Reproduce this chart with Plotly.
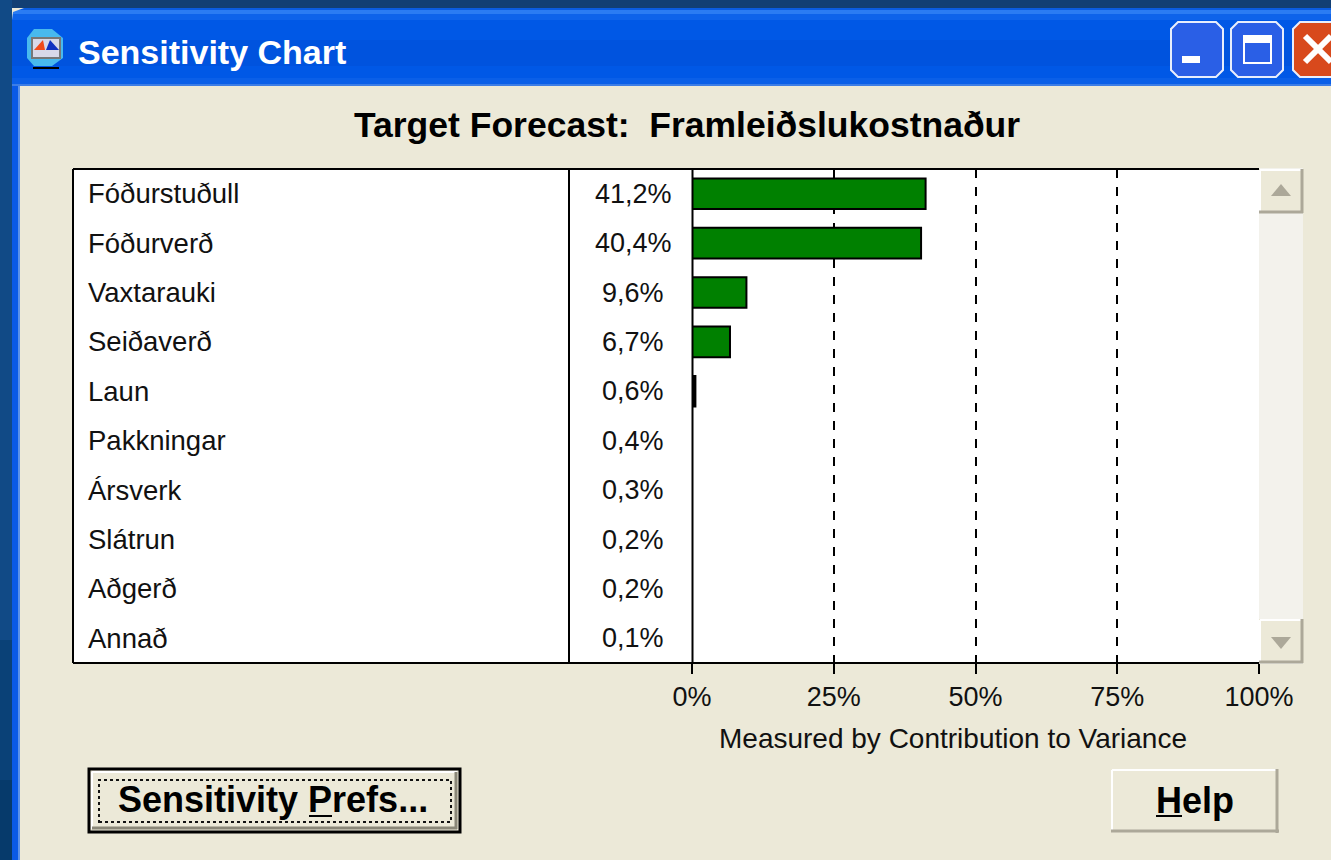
import plotly.graph_objects as go

categories = ["Fóðurstuðull", "Fóðurverð", "Vaxtarauki", "Seiðaverð", "Laun",
              "Pakkningar", "Ársverk", "Slátrun", "Aðgerð", "Annað"]
values = [41.2, 40.4, 9.6, 6.7, 0.6, 0.4, 0.3, 0.2, 0.2, 0.1]
value_labels = ["41,2%", "40,4%", "9,6%", "6,7%", "0,6%", "0,4%", "0,3%", "0,2%", "0,2%", "0,1%"]
tick_vals = [0, 25, 50, 75, 100]
tick_labels = ["0%", "25%", "50%", "75%", "100%"]
window_title = "Sensitivity Chart"
chart_title = "Target Forecast:  Framleiðslukostnaður"
axis_title = "Measured by Contribution to Variance"

BEIGE = "#ece9d8"
L, R, T, B = 692, 1259, 169, 663
NARROW = "Liberation Sans, Arial, sans-serif"
BOLD = "Liberation Sans, Arial, sans-serif"


def px(x):
    return (x - L) / (R - L)


def py(y):
    return (B - y) / (B - T)


shapes = []


def rect(x0, y0, x1, y1, fill=None, line=None, width=0, layer="above", dash=None):
    ln = dict(width=width)
    if line:
        ln["color"] = line
    if dash:
        ln["dash"] = dash
    shapes.append(dict(type="rect", xref="paper", yref="paper", x0=px(x0), x1=px(x1),
                       y0=py(y1), y1=py(y0), fillcolor=fill or "rgba(0,0,0,0)", line=ln, layer=layer))


def hline(x0, y0, x1, y1, color, width=2, layer="above", dash=None):
    ln = dict(color=color, width=width)
    if dash:
        ln["dash"] = dash
    shapes.append(dict(type="line", xref="paper", yref="paper", x0=px(x0), x1=px(x1),
                       y0=py(y0), y1=py(y1), line=ln, layer=layer))


def poly(points, fill=None, line=None, width=0, layer="above"):
    d = "M " + " L ".join(f"{px(x):.6f} {py(y):.6f}" for x, y in points) + " Z"
    ln = dict(width=width)
    if line:
        ln["color"] = line
    shapes.append(dict(type="path", xref="paper", yref="paper", path=d,
                       fillcolor=fill or "rgba(0,0,0,0)", line=ln, layer=layer))


# desktop behind the window
rect(0, 0, 1331, 8, "#123f74", layer="below")
rect(0, 0, 12, 860, "#114a86", layer="below")
rect(0, 640, 12, 860, "#0a4177", layer="below")
rect(0, 780, 12, 860, "#063a6b", layer="below")
# window frame
rect(12, 86, 20, 860, "#0a5ae6", layer="below")
rect(18, 86, 20, 860, "#5b92ea", layer="below")
# title bar gradient strips
for y0, y1, c in [(8, 10, "#0b5ce0"), (10, 14, "#2b7cf3"), (14, 20, "#0e63ea"), (20, 40, "#0058e6"),
                  (40, 66, "#0053de"), (66, 78, "#0058e6"), (78, 84, "#0a5fe8"), (84, 86, "#3c7de6")]:
    rect(12, y0, 1331, y1, c, layer="below")
rect(20, 86, 1331, 860, BEIGE, layer="below")
poly([(12, 20), (13, 12), (24, 8), (12, 8)], "#ece9d8", layer="below")
# app icon
poly([(34, 29), (52, 29), (63, 38), (63, 58), (52, 66), (34, 66), (27, 58), (27, 38)], "#48b9ee")
rect(32, 38, 60, 58, "#d8d8e8", "#777777", 2)
poly([(34, 50), (43, 40), (45, 50)], "#f04a1a")
poly([(46, 50), (50, 40), (59, 50)], "#1030c0")
hline(33, 68, 59, 68, "#000000", 2)

# window buttons
def winbtn(x0, x1, fill, edge="#e8eefc"):
    y0, y1, r = 22, 77, 7
    poly([(x0 + r, y0), (x1 - r, y0), (x1, y0 + r), (x1, y1 - r), (x1 - r, y1), (x0 + r, y1),
          (x0, y1 - r), (x0, y0 + r)], fill, edge, 2)


winbtn(1171, 1223, "#2a5fe6")
rect(1182, 56, 1200, 63, "#ffffff")
winbtn(1231, 1283, "#2a5fe6")
rect(1244, 36, 1271, 63, None, "#ffffff", 2)
rect(1243, 35, 1272, 43, "#ffffff")
winbtn(1293, 1345, "#d8491c")
hline(1305, 36, 1331, 62, "#ffffff", 6)
hline(1305, 62, 1331, 36, "#ffffff", 6)

# list frame and white chart ground
rect(73, T, R, B, "#ffffff", layer="below")
hline(73, T, 1259, T, "#000000", 2)
hline(73, B, 1259, B, "#000000", 2)
hline(73, T, 73, B, "#000000", 2)
hline(569, T, 569, B, "#000000", 2)
hline(692.5, T, 692.5, B, "#000000", 2)

# scrollbar
rect(1259, T - 1, 1303, B + 1, "#f3f2ec")
rect(1259, 169, 1303, 213, BEIGE)
hline(1260, 170, 1260, 212, "#ffffff", 2)
hline(1260, 170, 1302, 170, "#ffffff", 2)
hline(1302, 169, 1302, 213, "#aca899", 3)
hline(1259, 212, 1303, 212, "#aca899", 3)
poly([(1271, 196), (1291, 196), (1281, 184)], "#aca899")
rect(1259, 619, 1303, 663, BEIGE)
hline(1260, 620, 1260, 662, "#ffffff", 2)
hline(1260, 620, 1302, 620, "#ffffff", 2)
hline(1302, 619, 1302, 663, "#aca899", 3)
hline(1259, 662, 1303, 662, "#aca899", 3)
poly([(1271, 637), (1291, 637), (1281, 649)], "#aca899")

# Prefs button
rect(89, 769, 460, 832, BEIGE, "#000000", 3)
hline(92, 772, 457, 772, "#ffffff", 2)
hline(92, 772, 92, 829, "#ffffff", 2)
hline(92, 828, 457, 828, "#8a8778", 3)
hline(456, 772, 456, 829, "#8a8778", 3)
rect(99, 780, 451, 822, None, "#111111", 2, dash="dot")
hline(309, 816, 332, 816, "#000000", 2)
# Help button
rect(1111, 769, 1279, 832, BEIGE)
hline(1112, 770, 1278, 770, "#ffffff", 2)
hline(1112, 770, 1112, 831, "#ffffff", 2)
hline(1277, 769, 1277, 833, "#aca899", 3)
hline(1111, 831, 1279, 831, "#aca899", 3)
hline(1156, 816, 1182, 816, "#000000", 2)

annotations = []


def label(x, y, text, size, family=NARROW, color="#111111", anchor="center", bold=False):
    annotations.append(dict(xref="paper", yref="paper", x=px(x), y=py(y), text=f"<b>{text}</b>" if bold else text,
                            showarrow=False, xanchor=anchor, yanchor="middle",
                            font=dict(size=size, family=family, color=color)))


label(76, 52, window_title, 34, BOLD, "#ffffff", "left", True)
label(687, 125, chart_title, 35.5, BOLD, "#000000", "center", True)
label(953, 738, axis_title, 28)
label(273, 799, "Sensitivity Prefs...", 36, BOLD, "#000000", "center", True)
label(1195, 800, "Help", 36, BOLD, "#000000", "center", True)

for cat, vl in zip(categories, value_labels):
    annotations.append(dict(xref="paper", yref="y", x=px(86), y=cat, text=cat, showarrow=False, xanchor="left",
                            yanchor="middle", font=dict(size=27.5, family=NARROW, color="#111111")))
    annotations.append(dict(xref="paper", yref="y", x=px(633), y=cat, text=vl, showarrow=False, xanchor="center",
                            yanchor="middle", font=dict(size=27, family=NARROW, color="#111111")))

bar_fill = ["#008000" if v >= 1 else "#000000" if v >= 0.5 else "rgba(0,0,0,0)" for v in values]
bar_edge = ["#000000" if v >= 0.5 else "rgba(0,0,0,0)" for v in values]

fig = go.Figure(go.Bar(x=values, y=categories, orientation="h", width=0.62,
                       marker=dict(color=bar_fill, line=dict(color=bar_edge, width=2)),
                       showlegend=False, hoverinfo="skip"))
fig.update_layout(
    width=1331, height=860, autosize=False,
    margin=dict(l=L, r=1331 - R, t=T, b=860 - B),
    paper_bgcolor=BEIGE, plot_bgcolor="#ffffff",
    shapes=shapes, annotations=annotations, bargap=0.38,
    xaxis=dict(range=[0, 100], tickvals=tick_vals, ticktext=tick_labels, showgrid=True,
               gridcolor="#000000", gridwidth=2, griddash="dash", zeroline=False,
               ticks="outside", ticklen=10, tickwidth=2, tickcolor="#000000",
               tickfont=dict(size=27, family=NARROW, color="#111111"), showline=False),
    yaxis=dict(categoryorder="array", categoryarray=categories, autorange="reversed",
               showticklabels=False, showgrid=False, zeroline=False,
               showline=False, ticks=""),
)
fig.write_html("out.html", config=dict(displayModeBar=False),
               post_script="document.body.style.margin='0';document.body.style.overflow='hidden';")
